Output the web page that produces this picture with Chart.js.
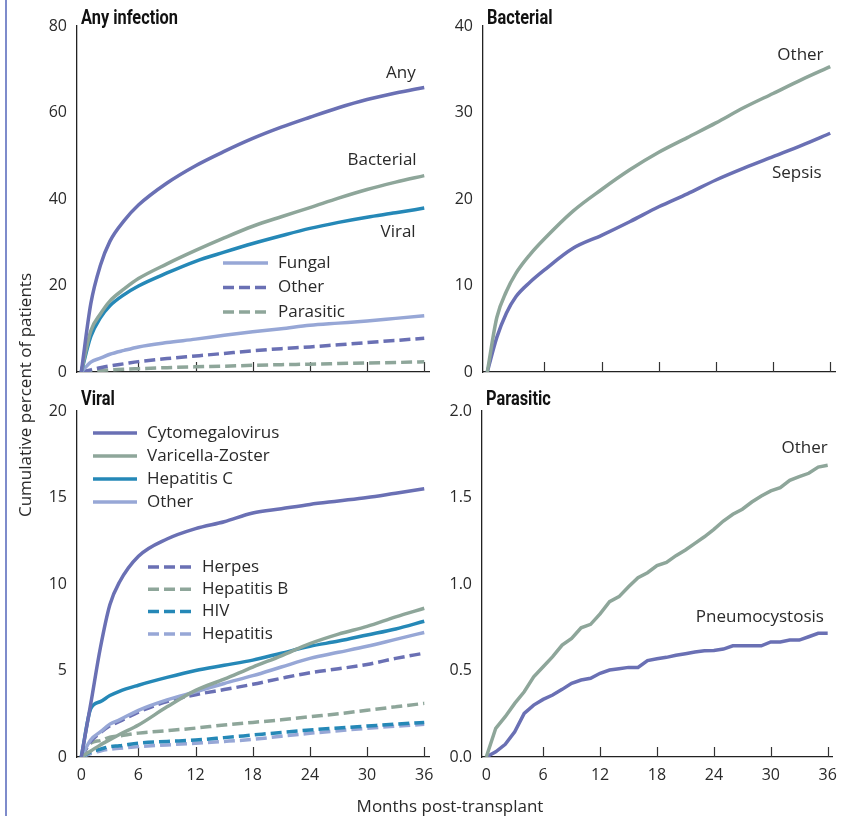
<!DOCTYPE html>
<html>
<head>
<meta charset="utf-8">
<script src="https://cdn.jsdelivr.net/npm/chart.js@4.4.1/dist/chart.umd.min.js"></script>
<style>
  html, body { margin: 0; padding: 0; background: #ffffff; }
  #wrap { position: relative; width: 846px; height: 816px; overflow: hidden; background: #fff; }
  #wrap canvas { position: absolute; left: 0; top: 0; }
  #frame { position: absolute; left: 5px; top: 0; width: 2px; height: 816px; background: #7e8bcb; }
  #ytitle { position: absolute; left: -125px; top: 383px; width: 300px; height: 24px; line-height: 24px;
            text-align: center; transform: rotate(-90deg); transform-origin: 50% 50%;
            font: 17px "Open Sans", "Noto Sans", sans-serif; color: #2a2a2a; white-space: nowrap; }
  #xtitle { position: absolute; left: 300px; top: 794px; width: 300px; height: 24px; line-height: 24px;
            text-align: center; font: 17px "Open Sans", "Noto Sans", sans-serif; color: #2a2a2a; white-space: nowrap; }
</style>
</head>
<body>
<div id="wrap">
  <div id="frame"></div>
  <canvas id="c1" width="846" height="816"></canvas>
  <canvas id="c2" width="846" height="816"></canvas>
  <canvas id="c3" width="846" height="816"></canvas>
  <canvas id="c4" width="846" height="816"></canvas>
  <div id="ytitle">Cumulative percent of patients</div>
  <div id="xtitle">Months post-transplant</div>
</div>
<script>
// ---------------- DATA ----------------
const xTickValues = [0, 6, 12, 18, 24, 30, 36];

// Panel 1: Any infection
const monthsAny = [0, 1, 2, 3, 4.5, 6, 9, 12, 15, 18, 21, 24, 27, 30, 33, 36];
const anyInfection = [0, 15.8, 24.6, 30.2, 35.0, 38.6, 43.7, 47.7, 51.0, 54.0, 56.6, 58.9, 61.1, 63.0, 64.5, 65.8];
const anyBacterial = [0, 9.5, 13.4, 16.4, 19.2, 21.6, 25.0, 28.1, 31.0, 33.7, 35.9, 38.0, 40.2, 42.2, 43.9, 45.4];
const anyViral     = [0, 8.2, 12.5, 15.3, 17.9, 19.9, 22.9, 25.6, 27.7, 29.7, 31.5, 33.2, 34.6, 35.8, 36.8, 37.9];
const anyFungal    = [0, 2.3, 3.2, 4.1, 5.0, 5.8, 6.8, 7.6, 8.5, 9.3, 10.0, 10.8, 11.3, 11.8, 12.4, 13.0];
const anyOther     = [0, 0.5, 1.0, 1.4, 1.9, 2.4, 3.1, 3.7, 4.3, 4.9, 5.4, 5.8, 6.3, 6.8, 7.3, 7.8];
const anyParasitic = [0, 0.2, 0.35, 0.5, 0.65, 0.77, 1.0, 1.2, 1.35, 1.55, 1.7, 1.8, 1.95, 2.1, 2.2, 2.35];
const yTicksAny = [0, 20, 40, 60, 80];

// Panel 2: Bacterial
const monthsBact = [0, 1, 2, 3, 4.5, 6, 9, 12, 15, 18, 21, 24, 27, 30, 33, 36];
const bactOther  = [0, 6.3, 9.3, 11.4, 13.6, 15.4, 18.6, 21.1, 23.4, 25.4, 27.1, 28.8, 30.6, 32.2, 33.8, 35.3];
const bactSepsis = [0, 4.0, 6.8, 8.7, 10.4, 11.8, 14.3, 15.8, 17.4, 19.1, 20.6, 22.2, 23.6, 24.9, 26.2, 27.6];
const yTicksBact = [0, 10, 20, 30, 40];

// Panel 3: Viral
const monthsViral = [0, 1, 2, 3, 4, 6, 9, 12, 15, 18, 21, 24, 27, 30, 33, 36];
const viralCMV       = [0, 3.1, 6.3, 8.8, 10.1, 11.6, 12.6, 13.2, 13.6, 14.1, 14.35, 14.6, 14.8, 15.0, 15.25, 15.5];
const viralVZ        = [0, 0.35, 0.7, 1.0, 1.3, 1.85, 2.9, 3.85, 4.5, 5.2, 5.85, 6.55, 7.1, 7.55, 8.1, 8.6];
const viralHepC      = [0, 2.8, 3.2, 3.55, 3.8, 4.15, 4.6, 5.0, 5.3, 5.6, 6.0, 6.4, 6.7, 7.05, 7.4, 7.85];
const viralOther     = [0, 1.0, 1.45, 1.9, 2.15, 2.7, 3.3, 3.77, 4.25, 4.7, 5.2, 5.7, 6.05, 6.4, 6.8, 7.2];
const viralHerpes    = [0, 0.9, 1.4, 1.8, 2.05, 2.6, 3.2, 3.6, 3.9, 4.2, 4.55, 4.87, 5.1, 5.35, 5.7, 6.0];
const viralHepB      = [0, 0.8, 0.95, 1.15, 1.22, 1.38, 1.52, 1.67, 1.85, 2.0, 2.15, 2.33, 2.5, 2.7, 2.9, 3.1];
const viralHIV       = [0, 0.3, 0.45, 0.6, 0.65, 0.8, 0.9, 0.98, 1.12, 1.27, 1.42, 1.56, 1.68, 1.79, 1.9, 2.0];
const viralHepatitis = [0, 0.2, 0.35, 0.45, 0.5, 0.6, 0.7, 0.8, 0.9, 1.02, 1.2, 1.37, 1.52, 1.66, 1.78, 1.89];
const yTicksViral = [0, 5, 10, 15, 20];

// Panel 4: Parasitic (monthly)
const monthsPara = [0,1,2,3,4,5,6,7,8,9,10,11,12,13,14,15,16,17,18,19,20,21,22,23,24,25,26,27,28,29,30,31,32,33,34,35,36];
const paraOther = [0,0.166,0.233,0.31,0.377,0.464,0.522,0.58,0.647,0.686,0.747,0.767,0.827,0.898,0.927,0.984,1.036,1.065,1.106,1.125,1.164,1.197,1.235,1.273,1.316,1.364,1.403,1.432,1.474,1.509,1.538,1.557,1.599,1.62,1.64,1.676,1.686];
const paraPneumo = [0,0.03,0.073,0.146,0.252,0.3,0.333,0.358,0.391,0.426,0.445,0.455,0.484,0.503,0.51,0.518,0.518,0.557,0.568,0.576,0.588,0.597,0.607,0.614,0.616,0.624,0.643,0.643,0.643,0.643,0.665,0.665,0.676,0.676,0.695,0.715,0.715];
const yTicksPara = [0, 0.5, 1.0, 1.5, 2.0];

// ---------------- STYLE ----------------
const PURPLE = '#6a70b4';
const GREEN  = '#8ea69a';
const TEAL   = '#2588b7';
const LBLUE  = '#97a7d6';
const DASH   = [11, 5];
const TXT    = '#2a2a2a';
const FONT   = '"Open Sans", "Noto Sans", sans-serif';
const TITLEFONT = 'bold 21px Roboto, "DejaVu Sans", sans-serif';

function series(label, months, values, color, dashed, tension) {
  return {
    label: label,
    data: months.map((m, i) => ({ x: m, y: values[i] })),
    borderColor: color,
    backgroundColor: color,
    borderWidth: 3.5,
    borderDash: dashed ? DASH : [],
    pointRadius: 0,
    fill: false,
    cubicInterpolationMode: tension === 'mono' ? 'monotone' : 'default',
    tension: tension === 'mono' ? 0.4 : (tension || 0)
  };
}

const deco = {
  id: 'deco',
  beforeDatasetsDraw(chart, args, o) {
    const ctx = chart.ctx, a = chart.chartArea, xs = chart.scales.x;
    ctx.save();
    ctx.strokeStyle = '#333';
    ctx.lineWidth = 1.2;
    xTickValues.forEach(v => {
      if (v === 0) return;
      const px = Math.round(xs.getPixelForValue(v)) + 0.5;
      ctx.beginPath();
      ctx.moveTo(px, a.bottom);
      ctx.lineTo(px, a.bottom - 10);
      ctx.stroke();
    });
    ctx.restore();
  },
  afterDatasetsDraw(chart, args, o) {
    const ctx = chart.ctx, a = chart.chartArea, xs = chart.scales.x, ys = chart.scales.y;
    ctx.save();
    // panel title (condensed look by horizontal scaling)
    ctx.font = TITLEFONT;
    const sx = 97 / ctx.measureText('Any infection').width;
    ctx.fillStyle = '#111';
    ctx.textAlign = 'left';
    ctx.textBaseline = 'alphabetic';
    ctx.save();
    ctx.translate(a.left + 4, a.top + o.titleDy);
    ctx.scale(sx, 1);
    ctx.fillText(o.title, 0, 0);
    ctx.restore();
    // curve labels
    ctx.font = '17px ' + FONT;
    ctx.fillStyle = TXT;
    ctx.textBaseline = 'middle';
    (o.notes || []).forEach(n => {
      ctx.textAlign = 'right';
      ctx.fillText(n.text, xs.getPixelForValue(n.x), ys.getPixelForValue(n.y));
    });
    // legends
    (o.legends || []).forEach(g => {
      g.items.forEach((idx, i) => {
        const ds = chart.data.datasets[idx];
        const y = a.top + g.top + i * g.gap;
        ctx.strokeStyle = ds.borderColor;
        ctx.lineWidth = ds.borderWidth;
        ctx.setLineDash(ds.borderDash || []);
        ctx.beginPath();
        ctx.moveTo(a.left + g.x0, y);
        ctx.lineTo(a.left + g.x1, y);
        ctx.stroke();
        ctx.setLineDash([]);
        ctx.textAlign = 'left';
        ctx.fillStyle = TXT;
        ctx.fillText(ds.label, a.left + g.tx, y);
      });
    });
    ctx.restore();
  }
};

function makeChart(id, cfg) {
  const area = cfg.area;
  const yW = 50;
  const xH = cfg.showX ? 40 : 0;
  return new Chart(document.getElementById(id), {
    type: 'line',
    data: { datasets: cfg.datasets },
    plugins: [deco],
    options: {
      responsive: false,
      animation: false,
      events: [],
      layout: { padding: { left: area.left - yW, top: area.top, right: 846 - area.right, bottom: 816 - area.bottom - xH } },
      plugins: {
        legend: { display: false },
        tooltip: { enabled: false },
        title: { display: false },
        deco: { title: cfg.title, titleDy: cfg.titleDy, notes: cfg.notes, legends: cfg.legends }
      },
      scales: {
        x: {
          type: 'linear',
          min: -0.45, max: 36.5,
          afterBuildTicks: s => { s.ticks = xTickValues.map(v => ({ value: v })); },
          afterFit: s => { s.height = xH; },
          grid: { display: false, drawTicks: false },
          border: { display: true, color: '#222', width: 1.3 },
          ticks: { display: cfg.showX, padding: 9, color: TXT, font: { family: FONT, size: 16 }, maxRotation: 0,
                   callback: v => String(v) }
        },
        y: {
          type: 'linear',
          min: cfg.yTicks[0], max: cfg.yTicks[cfg.yTicks.length - 1],
          afterBuildTicks: s => { s.ticks = cfg.yTicks.map(v => ({ value: v })); },
          afterFit: s => { s.width = yW; },
          grid: { display: false, drawTicks: false },
          border: { display: true, color: '#222', width: 1.3 },
          ticks: { padding: 10, color: TXT, font: { family: FONT, size: 16 },
                   callback: v => cfg.yDec ? v.toFixed(cfg.yDec) : String(v) }
        }
      }
    }
  });
}

// Panel 1
makeChart('c1', {
  area: { left: 77, top: 26, right: 429, bottom: 372 },
  title: 'Any infection', titleDy: -2, showX: false, yTicks: yTicksAny,
  datasets: [
    series('Any', monthsAny, anyInfection, PURPLE, false, 'mono'),
    series('Bacterial', monthsAny, anyBacterial, GREEN, false, 'mono'),
    series('Viral', monthsAny, anyViral, TEAL, false, 'mono'),
    series('Fungal', monthsAny, anyFungal, LBLUE, false, 'mono'),
    series('Other', monthsAny, anyOther, PURPLE, true, 'mono'),
    series('Parasitic', monthsAny, anyParasitic, GREEN, true, 'mono')
  ],
  notes: [
    { text: 'Any', x: 35.1, y: 69.1 },
    { text: 'Bacterial', x: 35.2, y: 49.0 },
    { text: 'Viral', x: 35.1, y: 32.4 }
  ],
  legends: [ { items: [3, 4, 5], x0: 146, x1: 191, tx: 201, top: 237, gap: 24.5 } ]
});

// Panel 2
makeChart('c2', {
  area: { left: 483, top: 26, right: 835, bottom: 372 },
  title: 'Bacterial', titleDy: -2, showX: false, yTicks: yTicksBact,
  datasets: [
    series('Other', monthsBact, bactOther, GREEN, false, 'mono'),
    series('Sepsis', monthsBact, bactSepsis, PURPLE, false, 'mono')
  ],
  notes: [
    { text: 'Other', x: 35.3, y: 36.6 },
    { text: 'Sepsis', x: 35.1, y: 23.0 }
  ]
});

// Panel 3
makeChart('c3', {
  area: { left: 77, top: 411, right: 429, bottom: 757 },
  title: 'Viral', titleDy: -6, showX: true, yTicks: yTicksViral,
  datasets: [
    series('Cytomegalovirus', monthsViral, viralCMV, PURPLE, false, 'mono'),
    series('Varicella-Zoster', monthsViral, viralVZ, GREEN, false, 'mono'),
    series('Hepatitis C', monthsViral, viralHepC, TEAL, false, 'mono'),
    series('Other', monthsViral, viralOther, LBLUE, false, 'mono'),
    series('Herpes', monthsViral, viralHerpes, PURPLE, true, 'mono'),
    series('Hepatitis B', monthsViral, viralHepB, GREEN, true, 'mono'),
    series('HIV', monthsViral, viralHIV, TEAL, true, 'mono'),
    series('Hepatitis', monthsViral, viralHepatitis, LBLUE, true, 'mono')
  ],
  legends: [
    { items: [0, 1, 2, 3], x0: 16, x1: 60, tx: 70, top: 22, gap: 23 },
    { items: [4, 5, 6, 7], x0: 71, x1: 116, tx: 125, top: 156, gap: 22.3 }
  ]
});

// Panel 4
makeChart('c4', {
  area: { left: 482, top: 411, right: 834, bottom: 757 },
  title: 'Parasitic', titleDy: -6, showX: true, yTicks: yTicksPara, yDec: 1,
  datasets: [
    series('Other', monthsPara, paraOther, GREEN, false, 0),
    series('Pneumocystosis', monthsPara, paraPneumo, PURPLE, false, 0)
  ],
  notes: [
    { text: 'Other', x: 36.0, y: 1.786 },
    { text: 'Pneumocystosis', x: 35.6, y: 0.81 }
  ]
});
</script>
</body>
</html>
